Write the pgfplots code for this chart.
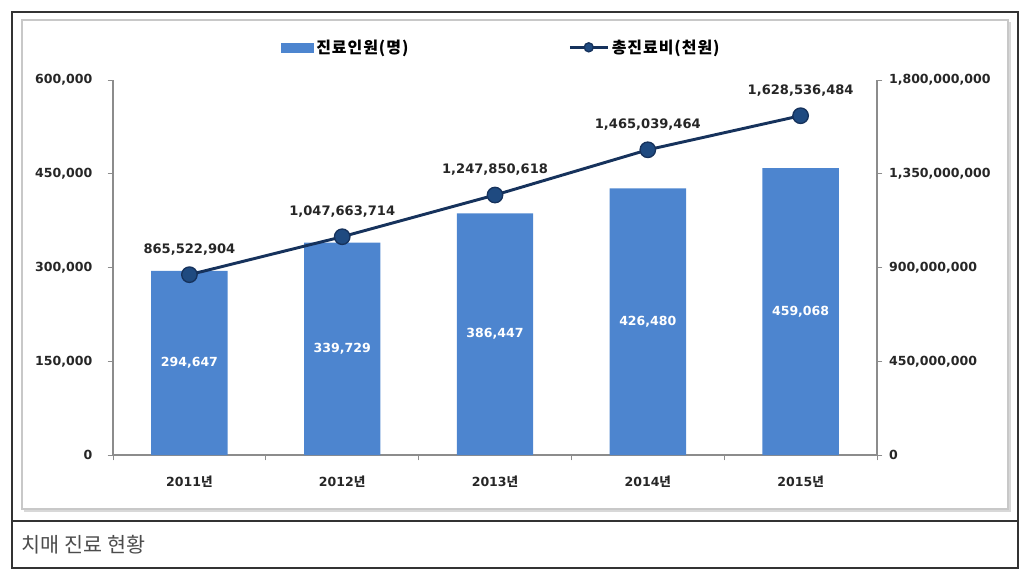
\documentclass[border=0pt]{standalone}
\usepackage{pgfplots}
\usepackage{pgfplotstable}
\pgfplotsset{compat=1.18}
\usepackage{fontspec}
\setmainfont{DejaVu Sans}
\newfontfamily\kr{Noto Sans CJK KR}
\newfontfamily\krl{Noto Sans CJK KR}[LetterSpace=6]
\definecolor{barblue}{RGB}{77,133,207}
\definecolor{linenavy}{RGB}{22,50,92}
\definecolor{marknavy}{RGB}{31,74,128}
\definecolor{axisgrey}{RGB}{140,140,140}
\definecolor{boxgrey}{RGB}{200,200,200}
\pgfplotstableread{
x y
0 294647
1 339729
2 386447
3 426480
4 459068
}\people
\pgfplotstableread{
x y lab
0 147323.5 294,647
1 169864.5 339,729
2 193223.5 386,447
3 213240 426,480
4 229534 459,068
}\peoplelab
\pgfplotstableread{
x y lab
0 865522904 865,522,904
1 1047663714 1,047,663,714
2 1247850618 1,247,850,618
3 1465039464 1,465,039,464
4 1628536484 1,628,536,484
}\cost
\pgfplotsset{myax/.style={
  scale only axis, width=573pt, height=281.25pt,
  at={(84.75pt,93pt)}, anchor=south west,
  xmin=-0.5, xmax=4.5, clip=false,
  tick align=outside, major tick length=4pt,
  every tick/.style={axisgrey, line width=0.6pt},
  axis line style={axisgrey, line width=0.8pt},
  tick label style={font=\bfseries\fontsize{9.4}{11}\selectfont, text=black!85},
  scaled y ticks=false,
  y tick label style={/pgf/number format/fixed, /pgf/number format/1000 sep={,}, /pgf/number format/assume math mode=true},
}}
\pgfplotsset{linelegend/.style={legend image code/.code={\draw[mark repeat=2, mark phase=2, ##1, line width=2pt, mark size=3.4pt] plot coordinates {(0pt,0pt) (14.25pt,0pt) (28.5pt,0pt)};}}}
\begin{document}
\begin{tikzpicture}[x=0.75pt,y=0.75pt]
\path (0,0) rectangle (1024,579);
\draw[line width=0.9pt, black!80] (12,11) rectangle (1018,567);
\draw[line width=0.9pt, black!80] (12,58) -- (1018,58);
\draw[boxgrey!70, line width=2pt] (24,68) -- (1010,68) -- (1010,557);
\draw[boxgrey, line width=0.8pt] (22,70) rectangle (1008,559);
\node[anchor=west, text=black!70, font=\kr\fontsize{15.5}{18}\selectfont] at (17,34) {치매 진료 현황};
\begin{axis}[myax, ymin=0, ymax=600000, ytick={0,150000,300000,450000,600000},
  axis y line*=left, axis x line*=bottom,
  y tick label style={xshift=-8pt},
  xtick={-0.5,0.5,1.5,2.5,3.5,4.5}, xticklabels={},
  extra x ticks={0,1,2,3,4},
  extra x tick labels={{2011{\kr 년}},{2012{\kr 년}},{2013{\kr 년}},{2014{\kr 년}},{2015{\kr 년}}},
  extra x tick style={major tick length=0pt, tick label style={yshift=-12pt}},
  ]
\addplot[ybar, bar width=0.5, fill=barblue, draw=none] table[x=x,y=y]{\people};
\addplot[draw=none, nodes near coords, point meta=explicit symbolic,
  every node near coord/.append style={anchor=center, text=white, font=\bfseries\fontsize{9.4}{11}\selectfont}]
  table[x=x,y=y,meta=lab]{\peoplelab};
\end{axis}
\begin{axis}[myax, ymin=0, ymax=1800000000, ytick={0,450000000,900000000,1350000000,1800000000},
  axis y line*=right, axis x line=none,
  y tick label style={xshift=1.5pt},
  legend columns=2,
  legend style={draw=none, fill=none, at={(0.5,1)}, anchor=center, xshift=5pt, yshift=24.5pt,
    font=\krl\bfseries\fontsize{12}{14}\selectfont,
    /tikz/every even column/.append style={column sep=118pt}},
  ]
\addlegendimage{legend image code/.code={\fill[barblue] (0pt,-3.4pt) rectangle (24pt,3.4pt);}}
\addlegendentry{진료인원(명)}
\addplot[linenavy, line width=2.2pt, mark=*, mark size=5.8pt,
  mark options={fill=marknavy, draw=linenavy, line width=1pt},
  nodes near coords, point meta=explicit symbolic,
  every node near coord/.append style={anchor=center, yshift=19pt, text=black!85, font=\bfseries\fontsize{9.8}{11}\selectfont},
  linelegend]
  table[x=x,y=y,meta=lab]{\cost};
\addlegendentry{총진료비(천원)}
\end{axis}
\end{tikzpicture}
\end{document}
